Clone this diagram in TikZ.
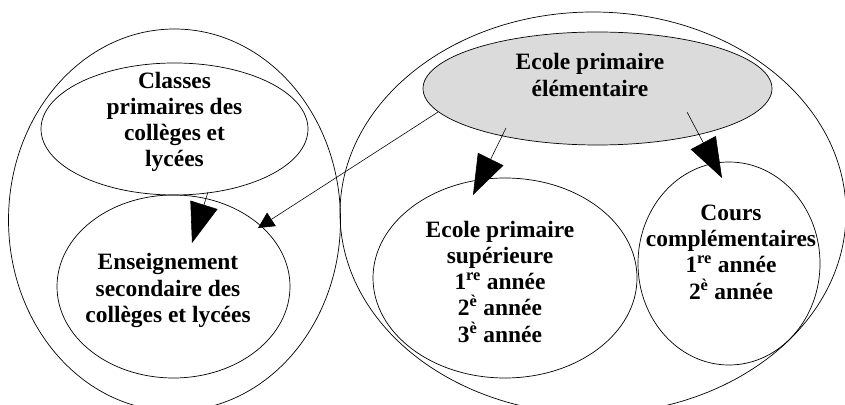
\documentclass[tikz,border=0pt]{standalone}
\usepackage{fontspec}
\setmainfont{Liberation Serif}
\usetikzlibrary{shapes,arrows.meta}
\definecolor{grisclair}{gray}{0.86}
\tikzset{myellipse/.style={ellipse,draw,inner sep=0pt,line width=0.6pt}}
\tikzset{mysize/.style args = {(#1,#2)}{%
		minimum width=#1*0.03cm, minimum height=#2*0.03cm}}
\tikzset{mytext/.style={align=center,inner sep=0pt,font=\bfseries\fontsize{20}{22.4}\selectfont}}
\tikzset{myarrow/.style={-{Triangle[length=1.2cm,width=0.85cm]},line width=0.5pt}}

\begin{document}
\begin{tikzpicture}[x=0.03cm, y=-0.03cm]
		\useasboundingbox (0,0) rectangle (845,405);
		
		\node[myellipse, mysize={(332,382)}] (g1) at (174.5,220) {};
		\node[myellipse, mysize={(506,402)}] (g2) at (593,213) {};
		\node[myellipse, mysize={(267,132)}] (cl) at (174.5,129) {};
		\node[myellipse, mysize={(233,183)}] (es) at (173.5,286.5) {};
		\node[myellipse, mysize={(264,200)}] (eps) at (505,278) {};
		\node[myellipse, mysize={(182,203)}] (cc) at (729,263.5) {};
		\node[myellipse, mysize={(349,113)}, fill=grisclair] (ep) at (597.5,88.5) {};
		
		\node[mytext] (cl-t) at (174.5,122) {Classes\\primaires des\\collèges et\\lycées};
		\node[mytext] (es-t) at (168,290.5) {Enseignement\\secondaire des\\collèges et lycées};
		\node[mytext] (ep-t) at (590,75) {Ecole primaire\\élémentaire};
		\node[mytext] (eps-t) at (500,281.5) {Ecole primaire\\supérieure\\1\textsuperscript{re} année\\2\textsuperscript{è} année\\3\textsuperscript{è} année};
		\node[mytext] (cc-t) at (731,252) {Cours\\complémentaires\\1\textsuperscript{re} année\\2\textsuperscript{è} année};
		
		\draw[myarrow] ([shift={(33.5,63)}]cl.center) -- ([shift={(18.5,-43.5)}]es.center);
		\draw[-{Triangle[length=0.48cm,width=0.48cm]}, line width=0.5pt] ([shift={(-159.5,23.5)}]ep.center) -- ([shift={(84.5,-58.5)}]es.center);
		\draw[myarrow] ([shift={(-91.5,39.5)}]ep.center) -- ([shift={(-32,-83)}]eps.center);
		\draw[myarrow] ([shift={(89.5,23.5)}]ep.center) -- ([shift={(-7,-85.5)}]cc.center);
\end{tikzpicture}
\end{document}
